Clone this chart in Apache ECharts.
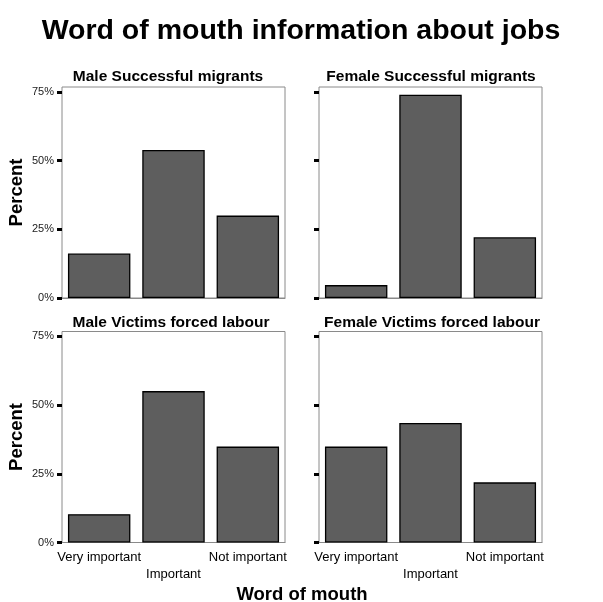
<!DOCTYPE html>
<html lang="en">
<head>
    <meta charset="UTF-8">
    <title>Word of mouth information about jobs</title>
    <script src="https://cdn.jsdelivr.net/npm/echarts@6/dist/echarts.min.js"></script>
    <style>
        html, body { margin: 0; padding: 0; background: #fff; }
        #main { width: 603px; height: 602px; }
    </style>
</head>
<body>
    <div id="main"></div>
    <script>
        // data (percent)
        var categories = ['Very important', 'Important', 'Not important'];
        var maleSuccess = [16.2, 53.9, 30.0];
        var femaleSuccess = [4.7, 74.0, 22.1];
        var maleVictims = [10.3, 55.1, 34.9];
        var femaleVictims = [34.9, 43.5, 21.9];
        var yTicks = [0, 25, 50, 75];
        var panelTitles = ['Male Successful migrants', 'Female Successful migrants',
            'Male Victims forced labour', 'Female Victims forced labour'];

        var font = '"Liberation Sans", Arial, sans-serif';
        var panelData = [maleSuccess, femaleSuccess, maleVictims, femaleVictims];
        // grid boxes: left, top
        var boxes = [[62, 87], [319, 87], [62, 331.5], [319, 331.5]];
        var titleCenters = [[168, 69], [431, 69], [171, 315], [432, 315]];

        var grids = [], xAxes = [], yAxes = [], series = [];
        var titles = [{
            text: 'Word of mouth information about jobs',
            left: 301, top: 17, textAlign: 'center', padding: 0,
            textStyle: { fontFamily: font, fontSize: 28.5, fontWeight: 'bold', color: '#000' }
        }, {
            text: 'Word of mouth',
            left: 302, top: 585, textAlign: 'center', padding: 0,
            textStyle: { fontFamily: font, fontSize: 18.5, fontWeight: 'bold', color: '#000' }
        }];

        for (var i = 0; i < 4; i++) {
            var isLeft = i % 2 === 0;
            var isBottom = i >= 2;
            grids.push({
                left: boxes[i][0], top: boxes[i][1], width: 223, height: 211,
                show: true, borderColor: '#8a8a8a', borderWidth: 1, containLabel: false
            });
            titles.push({
                text: panelTitles[i],
                left: titleCenters[i][0], top: titleCenters[i][1], textAlign: 'center', padding: 0,
                textStyle: { fontFamily: font, fontSize: 15.5, fontWeight: 'bold', color: '#000' }
            });
            xAxes.push({
                type: 'category', gridIndex: i, data: categories,
                axisLine: { lineStyle: { color: '#8a8a8a', width: 1 } },
                axisTick: { alignWithLabel: true, length: 3, lineStyle: { color: '#000', width: 3 } },
                axisLabel: {
                    show: isBottom, interval: 0, margin: 6,
                    fontFamily: font, fontSize: 13, color: '#000', lineHeight: 17,
                    formatter: function (v, idx) { return idx % 2 ? '\n' + v : v; }
                },
                splitLine: { show: false }
            });
            yAxes.push({
                type: 'value', gridIndex: i, min: 0, max: 76.8,
                name: isLeft ? 'Percent' : '',
                nameLocation: 'middle', nameGap: 36,
                nameTextStyle: { fontFamily: font, fontSize: 18.5, fontWeight: 'bold', color: '#000' },
                axisLine: { show: false },
                axisTick: { show: true, customValues: yTicks, length: 5, lineStyle: { color: '#000', width: 3 } },
                axisLabel: {
                    show: isLeft, customValues: yTicks, margin: 8,
                    fontFamily: font, fontSize: 11, color: '#222',
                    formatter: function (v) { return v + '%'; }
                },
                splitLine: { show: false }
            });
            series.push({
                type: 'bar', xAxisIndex: i, yAxisIndex: i,
                data: panelData[i],
                barCategoryGap: '16%',
                itemStyle: { color: '#5e5e5e', borderColor: '#000', borderWidth: 1.3 },
                animation: false
            });
        }

        var chart = echarts.init(document.getElementById('main'));
        chart.setOption({
            animation: false,
            title: titles,
            grid: grids,
            xAxis: xAxes,
            yAxis: yAxes,
            series: series
        });
    </script>
</body>
</html>
